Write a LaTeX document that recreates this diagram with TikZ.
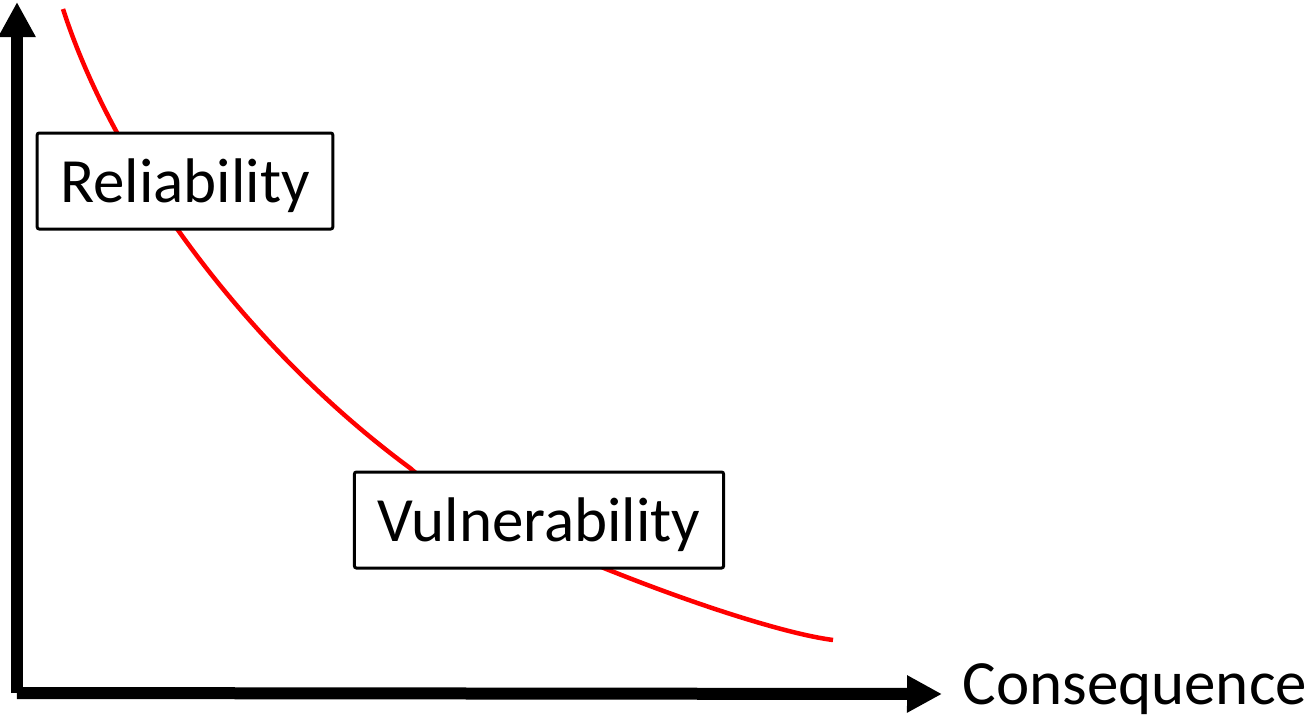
\documentclass[tikz,border=0pt]{standalone}
\usepackage{fontspec}
\setmainfont{Carlito}
\usetikzlibrary{arrows.meta}
\tikzset{
  axisline/.style={line width=12pt, -{Triangle[length=35pt,width=35pt]}},
  labelbox/.style={draw, fill=white, line width=3pt, rounded corners=2pt,
    minimum height=96pt, inner xsep=23pt, text depth=0pt,
    font=\fontsize{63}{70}\selectfont},
}
\begin{document}
\begin{tikzpicture}[x=1pt, y=-1pt]
            % page frame, in pixels of the reference
            \useasboundingbox (0,0) rectangle (1314,724);
            % red trade-off curve, behind the boxes
            \coordinate (ctop) at (63,9);
            \coordinate (cmid) at (410,468);
            \coordinate (cend) at (833,640);
            \draw[red, line width=4.5pt] (ctop) .. controls (115,170) and (250,350) .. (cmid)
              .. controls (470,523) and (740,628) .. (cend);
            % axes
            \coordinate (origin) at (17,693);
            \coordinate (ytip) at (17,2);
            \coordinate (xtip) at (942,694);
            \draw[axisline] (origin) -- (ytip);
            \draw[axisline] (origin) -- (xtip);
            \node[anchor=base west, font=\fontsize{63}{70}\selectfont] (xlabel) at (959,704) {Consequence};
            % labels on the curve
            \node[labelbox] (reliab) at (185,181) {Reliability};
            \node[labelbox] (vulner) at (539,520) {Vulnerability};
\end{tikzpicture}
\end{document}
